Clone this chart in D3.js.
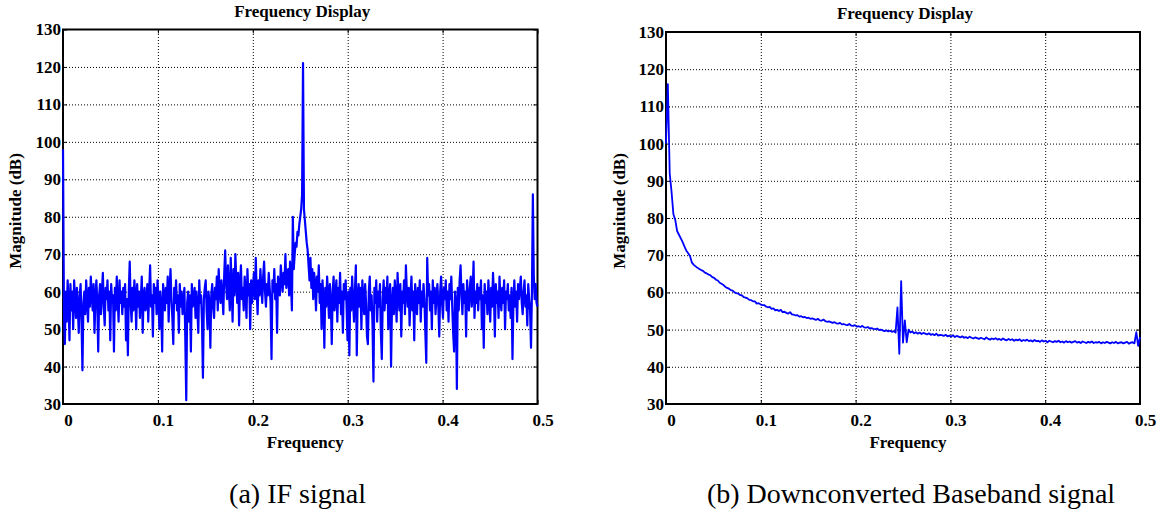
<!DOCTYPE html>
<html>
<head>
<meta charset="utf-8">
<script src="https://cdn.jsdelivr.net/npm/d3@7"></script>
<style>
body { margin: 0; background: #fff; }
svg { display: block; }
.lbl { font-family: "Liberation Serif", Tinos, "Times New Roman", Times, "DejaVu Serif", serif; font-weight: bold; font-size: 17px; fill: #000; }
.cap { font-family: "Liberation Serif", Tinos, "Times New Roman", Times, "DejaVu Serif", serif; font-size: 28px; fill: #000; }
.grid line { stroke: #000; stroke-width: 1; stroke-dasharray: 1,2; }
.grid path, .ticks path, .labels path { display: none; }
.ticks line { stroke: #000; stroke-width: 1; }
</style>
</head>
<body>
<svg id="chart" width="1172" height="516"></svg>
<script>
var xTicks = [0, 0.1, 0.2, 0.3, 0.4, 0.5]
var xTickLabels = ["0", "0.1", "0.2", "0.3", "0.4", "0.5"]
var yTicks = [30, 40, 50, 60, 70, 80, 90, 100, 110, 120, 130]
var yTickLabels = ["30", "40", "50", "60", "70", "80", "90", "100", "110", "120", "130"]

var titles = ["Frequency Display", "Frequency Display"]
var xLabels = ["Frequency", "Frequency"]
var yLabels = ["Magnitude (dB)", "Magnitude (dB)"]
var captions = ["(a) IF signal", "(b) Downconverted Baseband signal"]

// (a) IF signal, magnitude in dB, evenly spaced bins from 0 to 0.5
var ifMagnitude = [
    98,55,46,60,52,63,57,47,62,55,60,50,63,58,53,61,56,49,59,62,52,39,57,60,54,63,58,52,61,56,64,59,
    55,62,49,58,63,57,44,59,62,54,60,65,56,51,61,58,63,55,60,47,62,57,59,44,61,55,64,58,52,63,57,60,
    54,61,56,62,47,58,43,60,68,57,52,61,55,63,59,50,62,56,60,53,58,64,49,59,61,55,57,62,52,60,67,56,
    59,48,62,57,61,54,63,58,50,60,56,44,62,59,55,61,57,64,52,60,66,58,53,46,61,57,63,55,59,49,62,56,
    60,54,58,61,47,31,57,60,52,59,44,62,56,58,61,53,60,55,49,63,57,59,52,37,58,61,63,55,50,60,57,45,
    59,62,56,53,61,58,64,55,66,60,57,63,59,54,65,71,62,58,67,60,55,69,61,52,66,59,70,63,57,65,51,62,
    67,58,61,55,64,60,53,66,59,62,50,63,57,61,65,58,69,60,54,63,59,66,61,57,64,68,60,56,62,59,65,61,
    57,42,63,60,66,58,62,49,64,61,59,67,63,60,65,62,70,61,64,66,59,68,62,55,80,66,70,73,72,76,75,78,
    80,82,86,121,82,79,76,73,71,67,63,69,61,66,58,65,62,55,64,60,67,57,62,50,63,58,45,61,56,64,59,53,
    62,57,46,60,64,55,59,63,52,61,57,65,54,60,49,62,58,63,56,47,60,43,61,55,64,58,52,60,67,43,59,62,
    56,61,50,63,58,54,62,57,48,46,60,64,55,59,51,36,61,57,63,52,60,56,62,49,42,58,63,55,61,57,64,50,
    59,62,40,57,61,54,63,58,52,65,59,55,62,48,60,57,63,54,67,60,56,61,51,59,64,55,60,47,62,58,54,61,
    57,63,52,60,56,62,58,49,41,69,59,62,55,60,50,63,57,61,54,59,62,56,48,60,64,57,53,61,58,63,55,60,
    52,62,58,64,56,49,44,60,57,34,61,55,63,67,59,54,62,57,60,48,63,58,55,61,64,56,59,68,53,60,57,62,
    55,61,58,63,50,59,45,62,57,60,54,63,58,52,61,56,65,59,48,62,57,60,53,64,58,55,61,57,63,50,60,58,
    62,55,59,53,61,42,57,63,56,60,52,62,58,61,64,57,54,60,63,56,59,51,62,58,55,45,60,86,64,58,62,57,
    56
]

// (b) downconverted baseband signal, magnitude in dB, evenly spaced bins from 0 to 0.5
var basebandMagnitude = [
    100,116,92,87,81,79.5,76.5,75.5,74.5,73.5,72.3,71.2,70.5,69.7,68,67.4,
    67.0,66.6,66.3,66.0,65.8,65.3,65.1,64.8,64.6,64.1,63.9,63.4,63.2,62.6,62.3,62.0,
    61.5,61.2,61.0,60.6,60.5,60.0,59.8,59.7,59.3,59.2,58.7,58.6,58.4,58.0,57.9,57.6,
    57.6,57.0,57.1,56.8,56.6,56.6,56.2,56.0,56.1,55.6,55.7,55.2,55.3,55.0,55.3,54.7,
    54.8,54.5,54.3,54.7,54.1,54.0,53.8,53.9,53.5,53.6,53.3,53.4,53.1,53.2,52.9,53.0,
    52.8,52.6,52.9,52.5,52.4,52.7,52.3,52.1,52.2,52.0,51.8,52.0,51.7,51.6,51.8,51.4,
    51.5,51.3,51.2,51.5,51.1,51.0,51.2,50.8,50.9,50.7,51.0,50.6,50.5,50.7,50.3,50.4,
    50.2,50.1,50.3,49.9,50.0,49.8,49.6,49.8,49.5,49.7,49.4,49.6,49.2,56.0,43.5,63.0,
    46.5,52.5,46.6,50.0,49.2,49.5,49.0,49.3,48.9,49.2,48.8,49.1,48.9,48.7,49.0,48.6,
    48.8,48.5,48.9,48.4,48.6,48.5,48.3,48.6,48.2,48.4,48.1,48.5,48.0,48.3,48.1,47.9,
    48.2,47.8,48.0,47.7,48.1,47.8,47.6,47.9,47.7,47.5,47.8,47.6,47.4,47.9,47.5,47.3,
    47.6,47.4,47.7,47.3,47.5,47.2,47.6,47.3,47.1,47.5,47.2,47.4,47.0,47.3,47.1,47.4,
    46.9,47.2,47.0,47.3,46.9,47.1,46.8,47.2,46.9,47.0,46.7,47.1,46.8,47.0,46.6,47.0,
    46.8,46.6,46.9,46.7,47.0,46.6,46.8,46.5,46.9,46.6,46.8,46.5,46.7,46.9,46.5,46.7,
    46.4,46.8,46.6,46.4,46.7,46.5,46.8,46.4,46.6,46.5,46.7,46.3,46.6,46.4,46.7,46.5,
    46.3,46.6,46.4,46.7,46.3,46.5,46.6,46.3,46.5,46.7,46.2,46.5,46.6,46.3,49.3,45.6,
    48.0
]

var panels = [
    {values: ifMagnitude, left: 63, right: 537.5, top: 29.5, bottom: 404,
     titleY: 17, yLabelX: 21, captionX: 297.5, lineWidth: 2.2},
    {values: basebandMagnitude, left: 666, right: 1140, top: 32, bottom: 404,
     titleY: 18.5, yLabelX: 625, captionX: 911, lineWidth: 1.8}
]

var svg = d3.select("#chart")

var drawPanel = function(p, k){

    var width = p.right - p.left,
        height = p.bottom - p.top,
        step = 0.5 / (p.values.length - 1)

    var x = d3.scaleLinear()
        .domain([xTicks[0], xTicks[xTicks.length - 1]])
        .range([p.left, p.right])

    var y = d3.scaleLinear()
        .domain([yTicks[0], yTicks[yTicks.length - 1]])
        .range([p.bottom, p.top])

    var g = svg.append("g")

    // dotted grid
    g.append("g")
        .attr("class", "grid")
        .attr("transform", "translate(0," + p.bottom + ")")
        .call(d3.axisBottom(x)
            .tickValues(xTicks.slice(1, -1))
            .tickSize(-height)
            .tickFormat("")
        )

    g.append("g")
        .attr("class", "grid")
        .attr("transform", "translate(" + p.left + ",0)")
        .call(d3.axisLeft(y)
            .tickValues(yTicks.slice(1, -1))
            .tickSize(-width)
            .tickFormat("")
        )

    // inward ticks on all four sides
    g.append("g").attr("class", "ticks")
        .attr("transform", "translate(0," + p.bottom + ")")
        .call(d3.axisBottom(x).tickValues(xTicks).tickSize(-4).tickFormat(""))
    g.append("g").attr("class", "ticks")
        .attr("transform", "translate(0," + p.top + ")")
        .call(d3.axisTop(x).tickValues(xTicks).tickSize(-4).tickFormat(""))
    g.append("g").attr("class", "ticks")
        .attr("transform", "translate(" + p.left + ",0)")
        .call(d3.axisLeft(y).tickValues(yTicks).tickSize(-4).tickFormat(""))
    g.append("g").attr("class", "ticks")
        .attr("transform", "translate(" + p.right + ",0)")
        .call(d3.axisRight(y).tickValues(yTicks).tickSize(-4).tickFormat(""))

    // box
    g.append("rect")
        .attr("x", p.left)
        .attr("y", p.top)
        .attr("width", width)
        .attr("height", height)
        .attr("fill", "none")
        .attr("stroke", "#000")
        .attr("stroke-width", 2)

    // tick labels
    var xl = g.append("g")
        .attr("class", "labels")
        .attr("transform", "translate(0," + p.bottom + ")")
        .call(d3.axisBottom(x)
            .tickValues(xTicks)
            .tickSize(0)
            .tickPadding(10)
            .tickFormat(function(d, i){ return xTickLabels[i] })
        )
    xl.selectAll("text").attr("class", "lbl").attr("x", 5)

    var yl = g.append("g")
        .attr("class", "labels")
        .attr("transform", "translate(" + p.left + ",0)")
        .call(d3.axisLeft(y)
            .tickValues(yTicks)
            .tickSize(0)
            .tickPadding(2)
            .tickFormat(function(d, i){ return yTickLabels[i] })
        )
    yl.selectAll("text").attr("class", "lbl")
    g.selectAll(".labels line").remove()

    // spectrum
    var line = d3.line()
        .x(function(d, i) { return x(i * step) })
        .y(function(d) { return y(d) })

    g.append("path")
        .datum(p.values)
        .attr("fill", "none")
        .attr("stroke", "#0000ff")
        .attr("stroke-width", p.lineWidth)
        .attr("stroke-linejoin", "round")
        .attr("d", line)

    // texts
    g.append("text")
        .attr("class", "lbl")
        .attr("x", (p.left + p.right) / 2 + 2)
        .attr("y", p.titleY)
        .attr("text-anchor", "middle")
        .text(titles[k])

    g.append("text")
        .attr("class", "lbl")
        .attr("x", (p.left + p.right) / 2 + 5)
        .attr("y", 448)
        .attr("text-anchor", "middle")
        .text(xLabels[k])

    g.append("text")
        .attr("class", "lbl")
        .attr("transform", "translate(" + p.yLabelX + ",211) rotate(-90)")
        .attr("text-anchor", "middle")
        .text(yLabels[k])

    g.append("text")
        .attr("class", "cap")
        .attr("x", p.captionX)
        .attr("y", 503)
        .attr("text-anchor", "middle")
        .text(captions[k])
}

panels.forEach(drawPanel)
</script>
</body>
</html>
